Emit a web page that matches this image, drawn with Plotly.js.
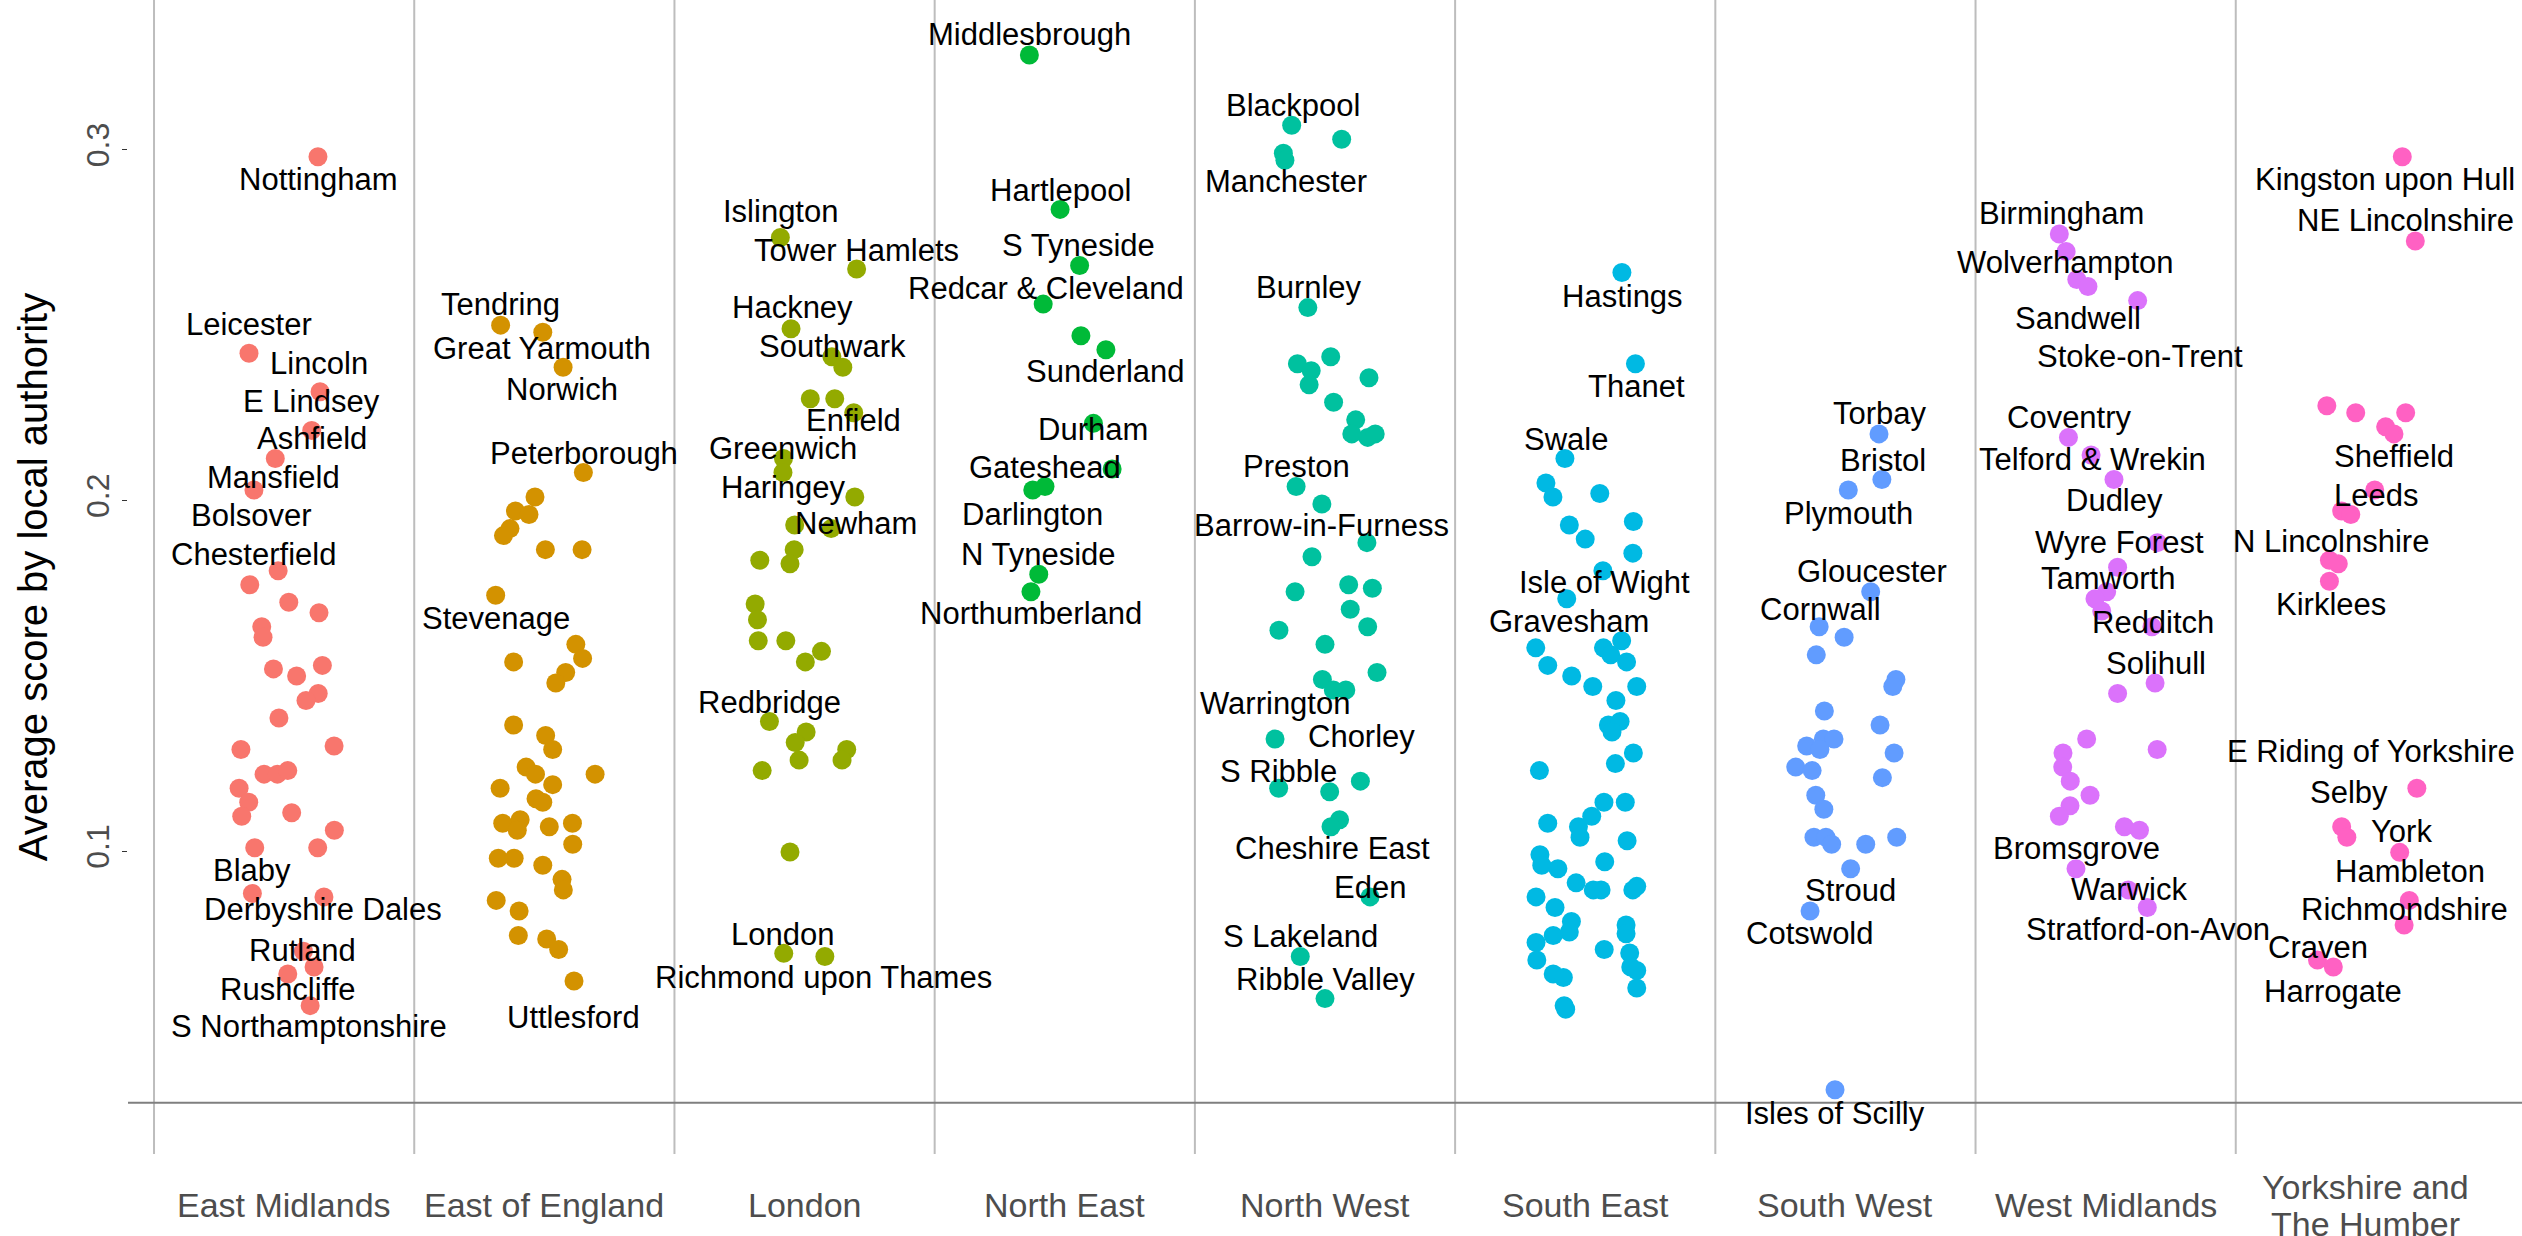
<!DOCTYPE html>
<html>
<head>
<meta charset="utf-8">
<script src="https://cdn.plot.ly/plotly-3.0.1.min.js"></script>
<style>
  html, body { margin: 0; padding: 0; background: #ffffff; }
  #chart { width: 2522px; height: 1236px; }
</style>
</head>
<body>
<div id="chart"></div>
<script>
// ---------------- DATA ----------------
const regions = ["East Midlands", "East of England", "London", "North East", "North West",
                 "South East", "South West", "West Midlands", "Yorkshire and The Humber"];
const regionTickLabels = ["East Midlands", "East of England", "London", "North East", "North West",
                          "South East", "South West", "West Midlands", "Yorkshire and<br>The Humber"];

// Average score per local authority, by region
const eastMidlandsValues = [0.298, 0.242, 0.231, 0.220, 0.212, 0.203, 0.180, 0.176, 0.171, 0.168, 0.164, 0.161,
  0.152, 0.153, 0.150, 0.145, 0.143, 0.138, 0.129, 0.130, 0.122, 0.122, 0.123, 0.118, 0.114, 0.110, 0.111,
  0.106, 0.101, 0.101, 0.088, 0.087, 0.0715, 0.067, 0.065, 0.056];
const eastOfEnglandValues = [0.250, 0.248, 0.238, 0.208, 0.201, 0.197, 0.196, 0.192, 0.190, 0.186, 0.186, 0.173,
  0.159, 0.155, 0.154, 0.151, 0.148, 0.136, 0.133, 0.129, 0.124, 0.122, 0.122, 0.118, 0.119, 0.115, 0.114,
  0.108, 0.109, 0.106, 0.107, 0.108, 0.102, 0.098, 0.098, 0.096, 0.092, 0.089, 0.086, 0.083, 0.076, 0.075,
  0.072, 0.063];
const londonValues = [0.275, 0.266, 0.249, 0.241, 0.238, 0.229, 0.229, 0.225, 0.212, 0.208, 0.201, 0.193, 0.192,
  0.186, 0.182, 0.183, 0.1705, 0.166, 0.160, 0.160, 0.157, 0.154, 0.137, 0.134, 0.131, 0.129, 0.126, 0.126,
  0.123, 0.0998, 0.0709, 0.070];
const northEastValues = [0.327, 0.283, 0.267, 0.256, 0.247, 0.243, 0.222, 0.209, 0.203, 0.204, 0.179, 0.174];
const northWestValues = [0.307, 0.303, 0.299, 0.297, 0.255, 0.239, 0.241, 0.237, 0.233, 0.235, 0.228, 0.223,
  0.219, 0.218, 0.219, 0.204, 0.199, 0.188, 0.184, 0.174, 0.176, 0.175, 0.169, 0.164, 0.163, 0.159, 0.151,
  0.149, 0.146, 0.146, 0.132, 0.120, 0.118, 0.117, 0.109, 0.107, 0.087, 0.070, 0.058];
const southEastValues = [0.265, 0.239, 0.212, 0.205, 0.201, 0.202, 0.193, 0.194, 0.189, 0.185, 0.180, 0.172,
  0.158, 0.158, 0.160, 0.156, 0.154, 0.153, 0.150, 0.147, 0.147, 0.143, 0.136, 0.137, 0.134, 0.128, 0.125,
  0.123, 0.114, 0.114, 0.110, 0.108, 0.107, 0.104, 0.103, 0.099, 0.096, 0.095, 0.097, 0.091, 0.089, 0.089,
  0.090, 0.089, 0.087, 0.084, 0.080, 0.077, 0.079, 0.0765, 0.076, 0.074, 0.072, 0.071, 0.069, 0.067, 0.065,
  0.064, 0.066, 0.061, 0.056, 0.055];
const southWestValues = [0.219, 0.206, 0.203, 0.174, 0.164, 0.161, 0.156, 0.149, 0.147, 0.140, 0.136, 0.130,
  0.132, 0.132, 0.129, 0.128, 0.124, 0.123, 0.121, 0.116, 0.112, 0.104, 0.104, 0.102, 0.102, 0.104, 0.095,
  0.083, 0.032];
const westMidlandsValues = [0.276, 0.271, 0.263, 0.261, 0.257, 0.218, 0.213, 0.206, 0.188, 0.181, 0.174, 0.172,
  0.1685, 0.164, 0.148, 0.145, 0.132, 0.129, 0.128, 0.124, 0.120, 0.116, 0.113, 0.110, 0.107, 0.106, 0.095,
  0.089, 0.084];
const yorkshireValues = [0.298, 0.274, 0.227, 0.225, 0.225, 0.221, 0.219, 0.203, 0.197, 0.196, 0.183, 0.182,
  0.177, 0.118, 0.107, 0.104, 0.0997, 0.086, 0.079, 0.069, 0.067];

// Horizontal jitter of each point within its region (category units)
const eastMidlandsJitter = [0.13, -0.135, 0.138, 0.106, -0.034, -0.116, -0.023, -0.132, 0.018, 0.134, -0.086,
  -0.081, -0.041, 0.147, 0.048, 0.131, 0.084, -0.02, -0.166, 0.192, -0.077, -0.026, 0.014, -0.173, -0.136,
  -0.163, 0.029, 0.193, -0.113, 0.129, -0.122, 0.153, 0.074, 0.115, 0.014, 0.1];
const eastOfEnglandJitter = [-0.168, -0.006, 0.072, 0.15, -0.036, -0.111, -0.059, -0.132, -0.157, 0.004, 0.145,
  -0.187, 0.121, 0.147, -0.118, 0.082, 0.044, -0.118, 0.005, 0.032, -0.07, -0.034, 0.195, -0.17, 0.032, -0.032,
  -0.006, -0.16, -0.093, -0.104, 0.019, 0.108, 0.109, -0.177, -0.116, -0.006, 0.068, 0.073, -0.185, -0.097,
  -0.1, 0.009, 0.055, 0.114];
const londonJitter = [-0.093, 0.2, -0.052, 0.105, 0.147, 0.022, 0.116, 0.189, -0.081, -0.083, 0.193, -0.038,
  0.102, -0.04, -0.056, -0.172, -0.19, -0.181, -0.178, -0.072, 0.065, 0.003, -0.135, 0.006, -0.036, 0.162,
  -0.021, 0.144, -0.163, -0.056, -0.08, 0.078];
const northEastJitter = [-0.136, -0.018, 0.057, -0.083, 0.062, 0.158, 0.11, 0.182, -0.123, -0.076, -0.1, -0.13];
const northWestJitter = [-0.128, 0.064, -0.16, -0.154, -0.066, -0.106, 0.022, -0.053, -0.061, 0.169, 0.033,
  0.118, 0.103, 0.164, 0.193, -0.111, -0.012, 0.161, -0.05, -0.115, 0.091, 0.182, 0.097, 0.164, -0.177, 0,
  0.2, -0.01, 0.032, 0.08, -0.192, 0.136, -0.178, 0.018, 0.056, 0.023, 0.173, -0.095, 0];
const southEastJitter = [0.141, 0.193, -0.078, -0.151, -0.124, 0.056, -0.061, 0.185, 0, 0.183, 0.068, -0.071,
  -0.19, 0.07, 0.14, 0.098, 0.159, -0.144, -0.052, 0.029, 0.198, 0.118, 0.089, 0.134, 0.103, 0.185, 0.116,
  -0.176, 0.072, 0.154, 0.025, -0.144, -0.026, -0.02, 0.161, -0.174, -0.167, -0.105, 0.075, -0.035, 0.031,
  0.061, 0.198, 0.183, -0.189, -0.116, -0.053, -0.061, 0.157, 0.157, -0.123, -0.189, 0.073, 0.171, -0.186,
  0.175, -0.123, -0.084, 0.198, 0.198, -0.081, -0.075];
const southWestJitter = [0.129, 0.14, 0.011, 0.097, -0.101, -0.005, -0.112, 0.194, 0.182, -0.081, 0.133, -0.149,
  -0.085, -0.044, -0.098, 0.187, -0.191, -0.128, 0.142, -0.114, -0.083, -0.121, -0.075, -0.053, 0.078, 0.197,
  0.02, -0.136, -0.04];
const westMidlandsJitter = [-0.178, -0.152, -0.111, -0.068, 0.123, -0.143, -0.056, 0.032, 0.199, 0.046, 0.004,
  -0.041, -0.015, 0.178, 0.19, 0.046, -0.073, 0.198, -0.164, -0.165, -0.136, -0.06, -0.137, -0.178, 0.072,
  0.13, -0.114, 0.087, 0.16];
const yorkshireJitter = [0.14, 0.19, -0.15, -0.039, 0.153, 0.076, 0.108, 0.034, -0.093, -0.058, -0.14, -0.106,
  -0.14, 0.196, -0.093, -0.073, 0.13, 0.167, 0.147, -0.186, -0.125];

// Named local authorities: [name, index of the point in its region]
const eastMidlandsNamed = [["Nottingham", 0], ["Leicester", 1], ["Lincoln", 2], ["E Lindsey", 3], ["Ashfield", 4],
  ["Mansfield", 5], ["Chesterfield", 6], ["Bolsover", 7], ["Blaby", 30], ["Derbyshire Dales", 31],
  ["Rutland", 32], ["Rushcliffe", 34], ["S Northamptonshire", 35]];
const eastOfEnglandNamed = [["Tendring", 0], ["Great Yarmouth", 1], ["Norwich", 2], ["Peterborough", 3],
  ["Stevenage", 11], ["Uttlesford", 43]];
const londonNamed = [["Islington", 0], ["Tower Hamlets", 1], ["Hackney", 2], ["Southwark", 3], ["Enfield", 7],
  ["Greenwich", 8], ["Haringey", 9], ["Newham", 12], ["Redbridge", 22], ["London", 30],
  ["Richmond upon Thames", 31]];
const northEastNamed = [["Middlesbrough", 0], ["Hartlepool", 1], ["S Tyneside", 2], ["Redcar & Cleveland", 3],
  ["Sunderland", 5], ["Durham", 6], ["Gateshead", 9], ["Darlington", 8], ["N Tyneside", 10],
  ["Northumberland", 11]];
const northWestNamed = [["Blackpool", 0], ["Manchester", 3], ["Burnley", 4], ["Preston", 15],
  ["Barrow-in-Furness", 16], ["Warrington", 30], ["Chorley", 31], ["S Ribble", 32], ["Cheshire East", 35],
  ["Eden", 36], ["S Lakeland", 37], ["Ribble Valley", 38]];
const southEastNamed = [["Hastings", 0], ["Thanet", 1], ["Swale", 2], ["Isle of Wight", 10], ["Gravesham", 11]];
const southWestNamed = [["Torbay", 0], ["Bristol", 1], ["Plymouth", 2], ["Gloucester", 3], ["Cornwall", 4],
  ["Stroud", 26], ["Cotswold", 27], ["Isles of Scilly", 28]];
const westMidlandsNamed = [["Birmingham", 0], ["Wolverhampton", 1], ["Sandwell", 3], ["Stoke-on-Trent", 4],
  ["Coventry", 5], ["Telford & Wrekin", 6], ["Dudley", 7], ["Wyre Forest", 9], ["Tamworth", 10],
  ["Redditch", 13], ["Solihull", 14], ["Bromsgrove", 26], ["Warwick", 27], ["Stratford-on-Avon", 28]];
const yorkshireNamed = [["Kingston upon Hull", 0], ["NE Lincolnshire", 1], ["Sheffield", 6], ["Leeds", 7],
  ["N Lincolnshire", 10], ["Kirklees", 12], ["E Riding of Yorkshire", 13], ["Selby", 14], ["York", 16],
  ["Hambleton", 17], ["Richmondshire", 18], ["Craven", 19], ["Harrogate", 20]];

// ---------------- STYLE / LAYOUT ----------------
const regionColors = ["#F8766D", "#D39200", "#93AA00", "#00BA38", "#00C19F",
                      "#00B9E3", "#619CFF", "#DB72FB", "#FF61C3"];

// Label nudges (pixels; dx right, dy down) – mimic repelled label placement
const labelNudge = {
  "Nottingham": [1, 23], "Leicester": [0, -29], "Lincoln": [-1, -28], "E Lindsey": [0, -29],
  "Ashfield": [37, -20], "Mansfield": [20, -13], "Chesterfield": [-25, -16], "Bolsover": [2, -69],
  "Blaby": [0, -23], "Derbyshire Dales": [-1, 13], "Rutland": [-1, -1], "Rushcliffe": [0, 15],
  "S Northamptonshire": [-1, 21],
  "Tendring": [0, -21], "Great Yarmouth": [-1, 16], "Norwich": [-1, 22], "Peterborough": [1, -19],
  "Stevenage": [0, 23], "Uttlesford": [-1, 36],
  "Islington": [0, -26], "Tower Hamlets": [0, -19], "Hackney": [1, -21], "Southwark": [1, -10],
  "Enfield": [0, 8], "Greenwich": [0, -10], "Haringey": [1, 15], "Newham": [25, -5], "Redbridge": [0, -19],
  "London": [-1, -19], "Richmond upon Thames": [-1, 21],
  "Middlesbrough": [0, -21], "Hartlepool": [0, -19], "S Tyneside": [-1, -20], "Redcar & Cleveland": [3, -16],
  "Sunderland": [0, 22], "Durham": [0, 6], "Gateshead": [0, -19], "Darlington": [0, 24],
  "N Tyneside": [0, -20], "Northumberland": [0, 22],
  "Blackpool": [1, -20], "Manchester": [1, 21], "Burnley": [1, -20], "Preston": [0, -20],
  "Barrow-in-Furness": [0, 21], "Warrington": [0, -36], "Chorley": [1, -45], "S Ribble": [0, -17],
  "Cheshire East": [2, 22], "Eden": [0, -9], "S Lakeland": [0, -20], "Ribble Valley": [0, -19],
  "Hastings": [1, 24], "Thanet": [1, 23], "Swale": [1, -19], "Isle of Wight": [2, 12], "Gravesham": [2, 23],
  "Torbay": [1, -20], "Bristol": [1, -19], "Plymouth": [0, 23], "Gloucester": [1, -20], "Cornwall": [1, -17],
  "Stroud": [0, 22], "Cotswold": [0, 23], "Isles of Scilly": [0, 24],
  "Birmingham": [2, -20], "Wolverhampton": [-1, 11], "Sandwell": [-10, 32], "Stoke-on-Trent": [2, 56],
  "Coventry": [1, -20], "Telford & Wrekin": [1, 5], "Dudley": [1, 21], "Wyre Forest": [2, -25],
  "Tamworth": [1, -13], "Redditch": [1, -4], "Solihull": [1, -19], "Bromsgrove": [1, -20],
  "Warwick": [1, 0], "Stratford-on-Avon": [1, 22],
  "Kingston upon Hull": [-17, 23], "NE Lincolnshire": [-10, -20], "Sheffield": [0, 23], "Leeds": [1, 5],
  "N Lincolnshire": [2, -19], "Kirklees": [2, 23], "E Riding of Yorkshire": [-46, -37], "Selby": [7, -34],
  "York": [2, -21], "Hambleton": [1, -29], "Richmondshire": [0, -15], "Craven": [1, -13], "Harrogate": [0, 24]
};

const allValues = [eastMidlandsValues, eastOfEnglandValues, londonValues, northEastValues, northWestValues,
                   southEastValues, southWestValues, westMidlandsValues, yorkshireValues];
const allJitter = [eastMidlandsJitter, eastOfEnglandJitter, londonJitter, northEastJitter, northWestJitter,
                   southEastJitter, southWestJitter, westMidlandsJitter, yorkshireJitter];
const allNamed = [eastMidlandsNamed, eastOfEnglandNamed, londonNamed, northEastNamed, northWestNamed,
                  southEastNamed, southWestNamed, westMidlandsNamed, yorkshireNamed];

const FONT = "Liberation Sans, Arial, Helvetica, sans-serif";

const traces = regions.map((name, i) => ({
  type: "scatter",
  mode: "markers",
  name: name,
  x: allJitter[i].map(j => i + j),
  y: allValues[i],
  marker: { color: regionColors[i], size: 19, line: { width: 0 } },
  hoverinfo: "y+name",
  showlegend: false,
  cliponaxis: false
}));

const annotations = [];
regions.forEach((name, i) => {
  allNamed[i].forEach(([label, idx]) => {
    const nudge = labelNudge[label] || [0, -20];
    annotations.push({
      x: i + allJitter[i][idx], y: allValues[i][idx], xref: "x", yref: "y",
      text: label, showarrow: false, xanchor: "center", yanchor: "middle",
      xshift: nudge[0], yshift: -nudge[1],
      font: { family: FONT, size: 31, color: "#000000" }
    });
  });
});
// category labels under the panel (multi-line labels centred vertically, tight line spacing)
const CAT_LINE = 37;
regionTickLabels.forEach((lab, i) => {
  const lines = lab.split("<br>");
  lines.forEach((line, k) => {
    annotations.push({
      x: i, y: 0, xref: "x", yref: "paper", text: line, showarrow: false,
      xanchor: "center", yanchor: "middle",
      yshift: -51 - (k - (lines.length - 1) / 2) * CAT_LINE,
      font: { family: FONT, size: 34, color: "#4D4D4D" }
    });
  });
});

const shapes = [];
for (let k = 0; k < regions.length; k++) {
  shapes.push({
    type: "line", layer: "below", xref: "x", yref: "paper",
    x0: k - 0.5, x1: k - 0.5, y0: 0, y1: 1,
    line: { color: "#BDBDBD", width: 2 }
  });
}
shapes.push({
  type: "line", layer: "below", xref: "paper", yref: "y",
  x0: 0, x1: 1, y0: 0.0283, y1: 0.0283,
  line: { color: "#7F7F7F", width: 2 }
});

const layout = {
  width: 2522, height: 1236,
  margin: { l: 128, r: 0, t: 0, b: 82 },
  paper_bgcolor: "#ffffff", plot_bgcolor: "#ffffff",
  font: { family: FONT },
  showlegend: false,
  xaxis: {
    range: [-0.6, 8.6], showgrid: false, zeroline: false, showline: false,
    showticklabels: false, ticks: "", fixedrange: true
  },
  yaxis: {
    range: [0.0137, 0.3427], showgrid: false, zeroline: false, showline: false,
    tickvals: [0.1, 0.2, 0.3], ticktext: ["0.1", "0.2", "0.3"], tickangle: -90,
    ticks: "outside", ticklen: 5, tickwidth: 1, tickcolor: "#333333",
    tickfont: { family: FONT, size: 32, color: "#4D4D4D" },
    title: { text: "Average score by local authority", standoff: 20,
             font: { family: FONT, size: 40, color: "#000000" } },
    automargin: false, fixedrange: true
  },
  shapes: shapes,
  annotations: annotations
};

Plotly.newPlot("chart", traces, layout, { displayModeBar: false, staticPlot: true });
</script>
</body>
</html>
